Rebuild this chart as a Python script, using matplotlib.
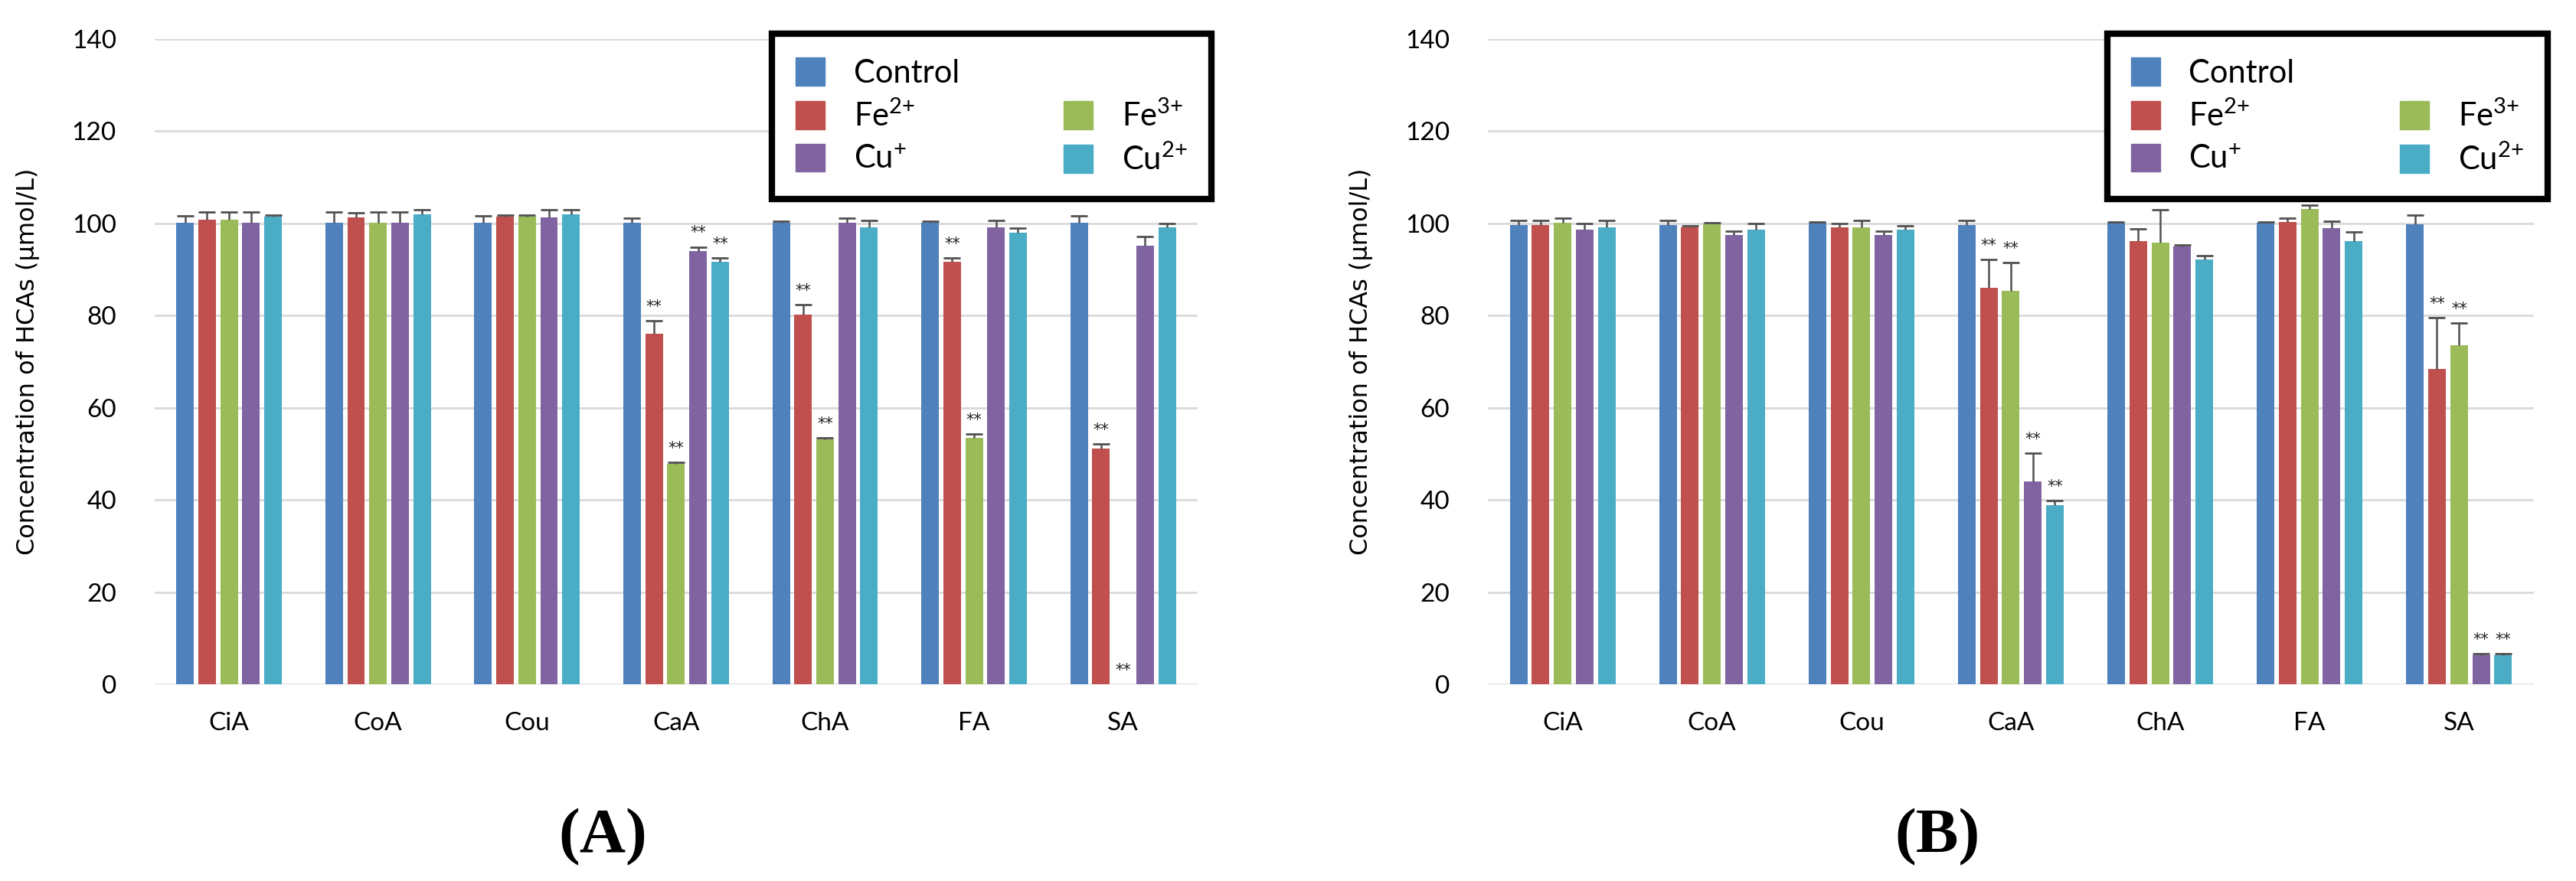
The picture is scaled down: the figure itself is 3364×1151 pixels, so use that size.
import numpy as np
import matplotlib
matplotlib.use('Agg')
import matplotlib.pyplot as plt
from matplotlib.patches import Rectangle

plt.rcParams['mathtext.fontset'] = 'custom'
plt.rcParams['mathtext.rm'] = 'Lato'
plt.rcParams['mathtext.default'] = 'regular'

compounds = ['CiA', 'CoA', 'Cou', 'CaA', 'ChA', 'FA', 'SA']
# "{+}" keeps mathtext from spacing the plus sign like an operator
series = ['Control', 'Fe$^{2{+}}$', 'Fe$^{3{+}}$', 'Cu$^{{+}}$', 'Cu$^{2{+}}$']
colors = ['#4F81BD', '#C0504D', '#9BBB59', '#8064A2', '#4BACC6']

# panel A
A_ctrl = [100.2, 100.2, 100.2, 100.2, 100.2, 100.2, 100.2]
A_ctrl_err = [1.5, 2.2, 1.5, 0.9, 0.2, 0.2, 1.5]
A_fe2 = [100.8, 101.3, 101.5, 76.1, 80.2, 91.7, 51.2]
A_fe2_err = [1.6, 1.0, 0.3, 2.8, 2.1, 0.8, 0.9]
A_fe3 = [100.8, 100.2, 101.5, 47.8, 53.1, 53.5, 0.0]
A_fe3_err = [1.6, 2.2, 0.3, 0.3, 0.3, 0.8, 0.0]
A_cu1 = [100.2, 100.2, 101.3, 94.0, 100.2, 99.1, 95.1]
A_cu1_err = [2.2, 2.2, 1.6, 0.9, 0.9, 1.5, 2.0]
A_cu2 = [101.5, 101.9, 101.9, 91.7, 99.1, 98.0, 99.1]
A_cu2_err = [0.3, 1.0, 1.0, 0.8, 1.5, 0.9, 0.9]
A_ctrl_sig = [0, 0, 0, 0, 0, 0, 0]
A_fe2_sig = [0, 0, 0, 1, 1, 1, 1]
A_fe3_sig = [0, 0, 0, 1, 1, 1, 1]
A_cu1_sig = [0, 0, 0, 1, 0, 0, 0]
A_cu2_sig = [0, 0, 0, 1, 0, 0, 0]

# panel B
B_ctrl = [99.7, 99.7, 100.1, 99.7, 100.1, 100.1, 99.8]
B_ctrl_err = [1.0, 1.0, 0.2, 1.0, 0.2, 0.2, 2.0]
B_fe2 = [99.7, 99.1, 99.1, 86.0, 96.2, 100.3, 68.4]
B_fe2_err = [1.0, 0.3, 0.8, 6.1, 2.6, 0.8, 11.1]
B_fe3 = [100.2, 100.0, 99.1, 85.4, 95.8, 103.1, 73.5]
B_fe3_err = [0.9, 0.2, 1.6, 6.1, 7.1, 0.9, 4.9]
B_cu1 = [98.6, 97.5, 97.5, 44.0, 95.0, 99.0, 6.3]
B_cu1_err = [1.4, 0.8, 0.8, 6.1, 0.3, 1.5, 0.3]
B_cu2 = [99.1, 98.6, 98.6, 38.9, 92.2, 96.2, 6.3]
B_cu2_err = [1.6, 1.4, 0.8, 1.0, 0.8, 1.9, 0.3]
B_ctrl_sig = [0, 0, 0, 0, 0, 0, 0]
B_fe2_sig = [0, 0, 0, 1, 0, 0, 1]
B_fe3_sig = [0, 0, 0, 1, 0, 0, 1]
B_cu1_sig = [0, 0, 0, 1, 0, 0, 1]
B_cu2_sig = [0, 0, 0, 1, 0, 0, 1]

panelA = [(A_ctrl, A_ctrl_err, A_ctrl_sig), (A_fe2, A_fe2_err, A_fe2_sig),
          (A_fe3, A_fe3_err, A_fe3_sig), (A_cu1, A_cu1_err, A_cu1_sig),
          (A_cu2, A_cu2_err, A_cu2_sig)]
panelB = [(B_ctrl, B_ctrl_err, B_ctrl_sig), (B_fe2, B_fe2_err, B_fe2_sig),
          (B_fe3, B_fe3_err, B_fe3_sig), (B_cu1, B_cu1_err, B_cu1_sig),
          (B_cu2, B_cu2_err, B_cu2_sig)]

fig = plt.figure(figsize=(33.64, 11.51), dpi=100)
axA = fig.add_axes([0.0600, 0.2233, 0.4049, 0.7324])
axB = fig.add_axes([0.5776, 0.2233, 0.4060, 0.7324])

pitch = 0.1475
barw = 0.118
x = np.arange(len(compounds))


def draw_panel(ax, data):
    for i, (vals, err, sig) in enumerate(data):
        vals = np.array(vals)
        err = np.array(err)
        xp = x + (i - 2) * pitch
        ax.bar(xp, vals, width=barw, color=colors[i], zorder=2)
        ax.errorbar(xp, vals, yerr=[np.zeros_like(err), err], fmt='none',
                    ecolor='#505050', elinewidth=1.8, capsize=0, zorder=3)
        captop = np.where(err > 0, vals + err, np.nan)
        ax.plot(xp, captop, ls='none', marker='_', markersize=16,
                markeredgewidth=2.0, color='#505050', zorder=3)
        for xx, v, e, s in zip(xp, vals, err, sig):
            if s:
                ax.text(xx, v + e + 3.0, '**', ha='center', va='center',
                        fontsize=15, color='#202020', family='DejaVu Sans')

    ax.set_xlim(-0.5, len(compounds) - 0.5)
    ax.set_ylim(0, 140)
    ax.set_yticks(np.arange(0, 141, 20))
    ax.set_xticks(x)
    ax.set_xticklabels(compounds, family='Lato', fontsize=24)
    for lab in ax.get_yticklabels():
        lab.set_family('Lato')
        lab.set_fontsize(24)
    ax.tick_params(axis='both', length=0)
    ax.tick_params(axis='y', pad=36)
    ax.tick_params(axis='x', pad=26)
    for sp in ax.spines.values():
        sp.set_visible(False)
    ax.yaxis.grid(True, color='#D9D9D9', linewidth=2.0, zorder=0)
    ax.set_axisbelow(True)
    ax.set_ylabel('Concentration of HCAs (μmol/L)', family='DejaVu Sans',
                  fontsize=23)
    ax.yaxis.set_label_coords(-0.11, 0.5)

    handles = [Rectangle((0, 0), 1, 1, color=colors[0]),
               Rectangle((0, 0), 1, 1, color=colors[1]),
               Rectangle((0, 0), 1, 1, color=colors[3]),
               Rectangle((0, 0), 1, 1, fc='none', ec='none'),
               Rectangle((0, 0), 1, 1, color=colors[2]),
               Rectangle((0, 0), 1, 1, color=colors[4])]
    labels = [series[0], series[1], series[3], '', series[2], series[4]]
    leg = ax.legend(handles, labels, ncol=2, mode='expand', loc='upper left',
                    bbox_to_anchor=(0.592, 0.754, 0.421, 0.254),
                    prop={'family': 'Lato', 'size': 30},
                    fancybox=False, framealpha=1, edgecolor='black',
                    borderpad=0.75, handlelength=0.91, handleheight=0.96,
                    handletextpad=0.9, labelspacing=0.38, borderaxespad=0)
    leg.get_frame().set_linewidth(6)
    leg.set_zorder(5)


draw_panel(axA, panelA)
draw_panel(axB, panelB)

fig.text(0.234, 0.0495, '(A)', ha='center', va='center', family='Liberation Serif',
         weight='bold', fontsize=60)
fig.text(0.752, 0.0495, '(B)', ha='center', va='center', family='Liberation Serif',
         weight='bold', fontsize=60)

fig.savefig('out.png', dpi=100, facecolor='white')
